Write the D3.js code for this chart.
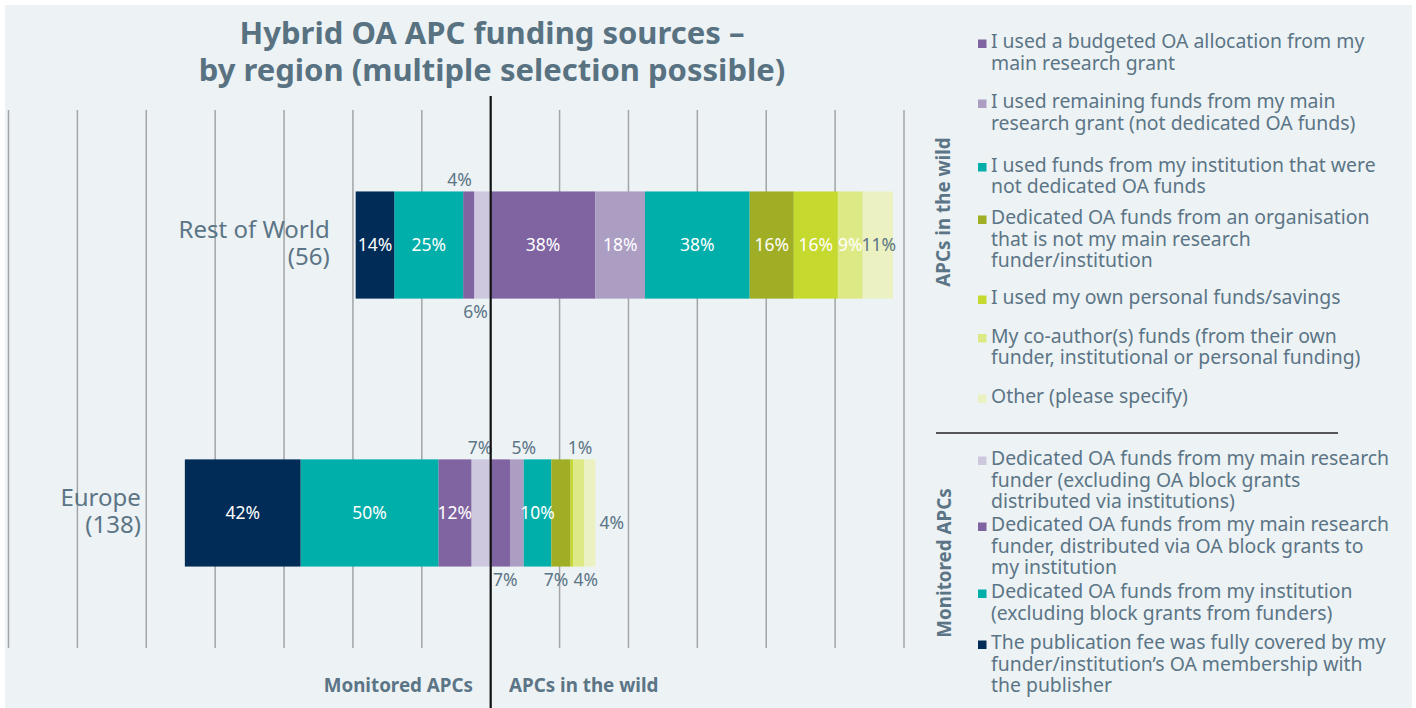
<!DOCTYPE html>
<html><head><meta charset="utf-8">
<script src="https://cdn.jsdelivr.net/npm/d3@7"></script>
<style>
body{margin:0;background:#fff;}
svg{display:block;font-family:"Noto Sans",sans-serif;}
</style>
</head><body>
<svg id="chart" width="1416" height="708"></svg>
<script>
// ---------------- DATA ----------------
const regions = ["Rest of World", "Europe"];
const regionN = [56, 138];

// Monitored APCs (drawn to the left, listed from the zero line outward)
const monitoredKeys = [
  "Dedicated OA funds from my main research\nfunder (excluding OA block grants\ndistributed via institutions)",
  "Dedicated OA funds from my main research\nfunder, distributed via OA block grants to\nmy institution",
  "Dedicated OA funds from my institution\n(excluding block grants from funders)",
  "The publication fee was fully covered by my\nfunder/institution\u2019s OA membership with\nthe publisher"
];
const monitoredRestOfWorld = [6, 4, 25, 14];
const monitoredEurope = [7, 12, 50, 42];

// APCs in the wild (drawn to the right, from the zero line outward)
const wildKeys = [
  "I used a budgeted OA allocation from my\nmain research grant",
  "I used remaining funds from my main\nresearch grant (not dedicated OA funds)",
  "I used funds from my institution that were\nnot dedicated OA funds",
  "Dedicated OA funds from an organisation\nthat is not my main research\nfunder/institution",
  "I used my own personal funds/savings",
  "My co-author(s) funds (from their own\nfunder, institutional or personal funding)",
  "Other (please specify)"
];
const wildRestOfWorld = [38, 18, 38, 16, 16, 9, 11];
const wildEurope = [7, 5, 10, 7, 1, 4, 4];

const gridTicks = [-175, -150, -125, -100, -75, -50, -25, 25, 50, 75, 100, 125, 150];

// ---------------- STYLE ----------------
const monitoredColors = ["#cdc8de", "#8064a1", "#00aeaa", "#012c57"];
const wildColors = ["#8064a1", "#ac9dc3", "#00aeaa", "#9fae24", "#c6d92e", "#dde985", "#ebf1c1"];
const textColor = "#5b7586";
const bg = "#edf2f5";

// label placement per segment: [mode, dx]  (in = white inside, dark = slate inside)
const monitoredPlacement = [
  [["below", -7], ["above", -9], ["in", 0], ["in", 0]],
  [["above", -1], ["in", 0], ["in", 0], ["in", 0]]
];
const wildPlacement = [
  [["in", 0], ["in", 0], ["in", 0], ["in", 0], ["in", 0], ["in", 0], ["dark", 1]],
  [["below", 5], ["above", 7], ["in", 0], ["below", -5], ["above", 8], ["below", 7], ["right", 4]]
];
const categoryGap = [26, 44];

const svg = d3.select("#chart");
svg.append("rect").attr("x", 5).attr("y", 5).attr("width", 1407).attr("height", 703).attr("fill", bg);

const x = d3.scaleLinear().domain([-175, 150]).range([8.5, 904]);
const y = d3.scaleBand().domain(regions).range([110, 648]).paddingInner(0.6).paddingOuter(0.304);

// grid
svg.append("g").selectAll("line").data(gridTicks).join("line")
  .attr("x1", d => x(d)).attr("x2", d => x(d))
  .attr("y1", 110).attr("y2", 648)
  .attr("stroke", "#a3a5a7").attr("stroke-width", 1.5);

const monitoredData = [monitoredRestOfWorld, monitoredEurope];
const wildData = [wildRestOfWorld, wildEurope];

const fmt = v => v + "%";

regions.forEach((r, ri) => {
  const y0 = y(r), bh = y.bandwidth();
  const g = svg.append("g");
  let acc = 0;
  const segs = [];
  monitoredData[ri].forEach((v, i) => {
    segs.push({x0: x(-(acc + v)), x1: x(-acc), v, color: monitoredColors[i], place: monitoredPlacement[ri][i]});
    acc += v;
  });
  const leftEnd = x(-acc);
  acc = 0;
  wildData[ri].forEach((v, i) => {
    segs.push({x0: x(acc), x1: x(acc + v), v, color: wildColors[i], place: wildPlacement[ri][i]});
    acc += v;
  });
  g.selectAll("rect").data(segs).join("rect")
    .attr("x", d => d.x0).attr("width", d => d.x1 - d.x0)
    .attr("y", y0).attr("height", bh).attr("fill", d => d.color);

  g.selectAll("text.lab").data(segs).join("text").attr("class", "lab")
    .attr("font-size", 17.5)
    .attr("text-anchor", d => d.place[0] === "right" ? "start" : "middle")
    .attr("fill", d => (d.place[0] === "in") ? "#ffffff" : textColor)
    .attr("x", d => d.place[0] === "right" ? d.x1 + d.place[1] : (d.x0 + d.x1) / 2 + d.place[1])
    .attr("y", d => {
      const m = d.place[0];
      if (m === "above") return y0 - 5;
      if (m === "below") return y0 + bh + 19;
      if (m === "right") return y0 + bh / 2 + 16;
      return y0 + bh / 2 + 6;
    })
    .text(d => fmt(d.v));

  // category label (two lines)
  const lx = leftEnd - categoryGap[ri];
  svg.append("text").attr("text-anchor", "end").attr("fill", textColor)
    .attr("font-size", 24).attr("x", lx).attr("y", y0 + bh / 2 - 7).text(r);
  svg.append("text").attr("text-anchor", "end").attr("fill", textColor)
    .attr("font-size", 24).attr("x", lx).attr("y", y0 + bh / 2 + 20).text("(" + regionN[ri] + ")");
});

// zero line
svg.append("line").attr("x1", x(0)).attr("x2", x(0)).attr("y1", 96).attr("y2", 708)
  .attr("stroke", "#111").attr("stroke-width", 2.2);

// title
const title = svg.append("text").attr("text-anchor", "middle").attr("fill", "#587282")
  .attr("font-weight", "bold").attr("font-size", 31).attr("x", 492);
title.append("tspan").attr("x", 492).attr("y", 44).text("Hybrid OA APC funding sources \u2013");
title.append("tspan").attr("x", 492).attr("y", 81).text("by region (multiple selection possible)");

// bottom side labels
svg.append("text").attr("x", 473).attr("y", 692).attr("text-anchor", "end")
  .attr("font-weight", "bold").attr("font-size", 18.8).attr("fill", textColor).text("Monitored APCs");
svg.append("text").attr("x", 509).attr("y", 692).attr("text-anchor", "start")
  .attr("font-weight", "bold").attr("font-size", 18.8).attr("fill", textColor).text("APCs in the wild");

// legend
const lineH = 21.6;
const wildBaselines = [48, 108, 171.5, 224, 304, 342.5, 403];
const monBaselines = [465, 531, 598, 649];

function legendItem(label, color, base) {
  svg.append("rect").attr("x", 978).attr("y", base - 8.5).attr("width", 8.5).attr("height", 8.5).attr("fill", color);
  const t = svg.append("text").attr("font-size", 19.4).attr("fill", textColor);
  label.split("\n").forEach((ln, i) => {
    t.append("tspan").attr("x", 991).attr("y", base + i * lineH).text(ln);
  });
}
wildKeys.forEach((k, i) => legendItem(k, wildColors[i], wildBaselines[i]));
monitoredKeys.forEach((k, i) => legendItem(k, monitoredColors[i], monBaselines[i]));

svg.append("line").attr("x1", 936).attr("x2", 1338).attr("y1", 433).attr("y2", 433)
  .attr("stroke", "#222").attr("stroke-width", 1.3);

svg.append("text").attr("transform", "translate(950,212) rotate(-90)").attr("text-anchor", "middle")
  .attr("font-weight", "bold").attr("font-size", 18.8).attr("fill", textColor).text("APCs in the wild");
svg.append("text").attr("transform", "translate(951,563) rotate(-90)").attr("text-anchor", "middle")
  .attr("font-weight", "bold").attr("font-size", 18.8).attr("fill", textColor).text("Monitored APCs");
</script>
</body></html>
